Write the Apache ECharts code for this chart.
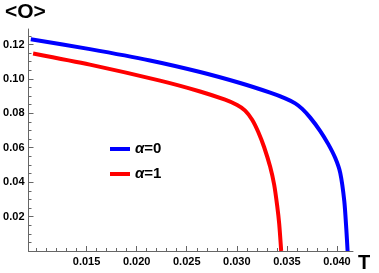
<!DOCTYPE html>
<html><head><meta charset="utf-8">
<script src="https://cdn.jsdelivr.net/npm/echarts@6/dist/echarts.min.js"></script>
<style>html,body{margin:0;padding:0;background:#fff}#c{width:379px;height:273px}</style>
</head><body><div id="c"></div>
<script>
const seriesNames = ['α=0', 'α=1'];
const tAlpha0 = [0.00943, 0.01533, 0.02133, 0.02633, 0.03033, 0.03333, 0.03483, 0.03583, 0.03653, 0.03733, 0.03833, 0.03913, 0.03983, 0.04033, 0.04073, 0.04093, 0.04106];
const oAlpha0 = [0.1231, 0.1173, 0.1107, 0.1040, 0.0976, 0.0920, 0.0887, 0.0858, 0.0826, 0.0775, 0.0697, 0.0621, 0.0540, 0.0453, 0.0291, 0.0130, 0.0];
const tAlpha1 = [0.00966, 0.01533, 0.02233, 0.02633, 0.02883, 0.03003, 0.03083, 0.03153, 0.03213, 0.03273, 0.03333, 0.03373, 0.03403, 0.03423, 0.03443];
const oAlpha1 = [0.1148, 0.1083, 0.0990, 0.0927, 0.0879, 0.0848, 0.0816, 0.0763, 0.0693, 0.0603, 0.0489, 0.0385, 0.0263, 0.0159, 0.0];
const xTickLabels = [0.015, 0.020, 0.025, 0.030, 0.035, 0.040];
const yTickLabels = [0.02, 0.04, 0.06, 0.08, 0.10, 0.12];
const xMinorTicks = [];
for (let i = 10; i <= 41; i++) xMinorTicks.push(i / 1000);
const yMinorTicks = [];
for (let i = 0; i <= 25; i++) yMinorTicks.push(i * 0.005);

const pairs = (t, o) => t.map((v, i) => [v, o[i]]);
const FONT = '"Liberation Sans", Arial, sans-serif';
const AX = '#666';
const X_MIN = 0.0092, X_MAX = 0.0416, Y_MIN = 0, Y_MAX = 0.129;

const chart = echarts.init(document.getElementById('c'), null, {renderer: 'canvas'});
chart.setOption({
  animation: false,
  grid: {left: 28.5, right: 26, top: 29, bottom: 20.5, containLabel: false},
  title: {text: '<O>', left: 0, top: -3, textStyle: {fontFamily: FONT, fontWeight: 'bold', fontSize: 21, color: '#000'}},
  legend: {
    orient: 'vertical', left: 105, top: 135, itemWidth: 20, itemHeight: 4, itemGap: 7, icon: 'rect',
    data: seriesNames,
    formatter: n => '{a|α}{b|' + n.slice(1) + '}',
    textStyle: {
      fontFamily: FONT, fontWeight: 'bold', fontSize: 15, color: '#000', lineHeight: 18,
      rich: {a: {fontStyle: 'italic', fontWeight: 'bold', fontSize: 15, fontFamily: FONT}, b: {fontWeight: 'bold', fontSize: 15, fontFamily: FONT}}
    }
  },
  xAxis: [{
    type: 'value', min: X_MIN, max: X_MAX,
    name: 'T', nameLocation: 'end', nameGap: 5,
    nameTextStyle: {fontFamily: FONT, fontWeight: 'bold', fontSize: 20, color: '#000', verticalAlign: 'top', padding: [2, 0, 0, 0]},
    axisLine: {show: true, lineStyle: {color: AX, width: 1}},
    axisTick: {show: true, inside: true, length: 5, customValues: xTickLabels, lineStyle: {color: AX}},
    axisLabel: {show: true, customValues: xTickLabels, formatter: v => v.toFixed(3), fontFamily: FONT, fontWeight: 'bold', fontSize: 11, color: '#000', margin: 5},
    splitLine: {show: false}
  }, {
    type: 'value', min: X_MIN, max: X_MAX, position: 'bottom',
    axisLine: {show: false},
    axisTick: {show: true, inside: true, length: 3, customValues: xMinorTicks, lineStyle: {color: AX}},
    axisLabel: {show: false}, splitLine: {show: false}
  }],
  yAxis: [{
    type: 'value', min: Y_MIN, max: Y_MAX,
    axisLine: {show: true, lineStyle: {color: AX, width: 1}},
    axisTick: {show: true, inside: true, length: 5, customValues: yTickLabels, lineStyle: {color: AX}},
    axisLabel: {show: true, customValues: yTickLabels, formatter: v => v.toFixed(2), fontFamily: FONT, fontWeight: 'bold', fontSize: 11, color: '#000', margin: 4},
    splitLine: {show: false}
  }, {
    type: 'value', min: Y_MIN, max: Y_MAX, position: 'left',
    axisLine: {show: false},
    axisTick: {show: true, inside: true, length: 3, customValues: yMinorTicks, lineStyle: {color: AX}},
    axisLabel: {show: false}, splitLine: {show: false}
  }],
  series: [
    {name: seriesNames[0], type: 'line', data: pairs(tAlpha0, oAlpha0), showSymbol: false, symbol: 'none', smooth: 0.25, color: '#0000ff', lineStyle: {width: 4, color: '#0000ff'}},
    {name: seriesNames[1], type: 'line', data: pairs(tAlpha1, oAlpha1), showSymbol: false, symbol: 'none', smooth: 0.25, color: '#ff0000', lineStyle: {width: 4, color: '#ff0000'}}
  ]
});
</script></body></html>
